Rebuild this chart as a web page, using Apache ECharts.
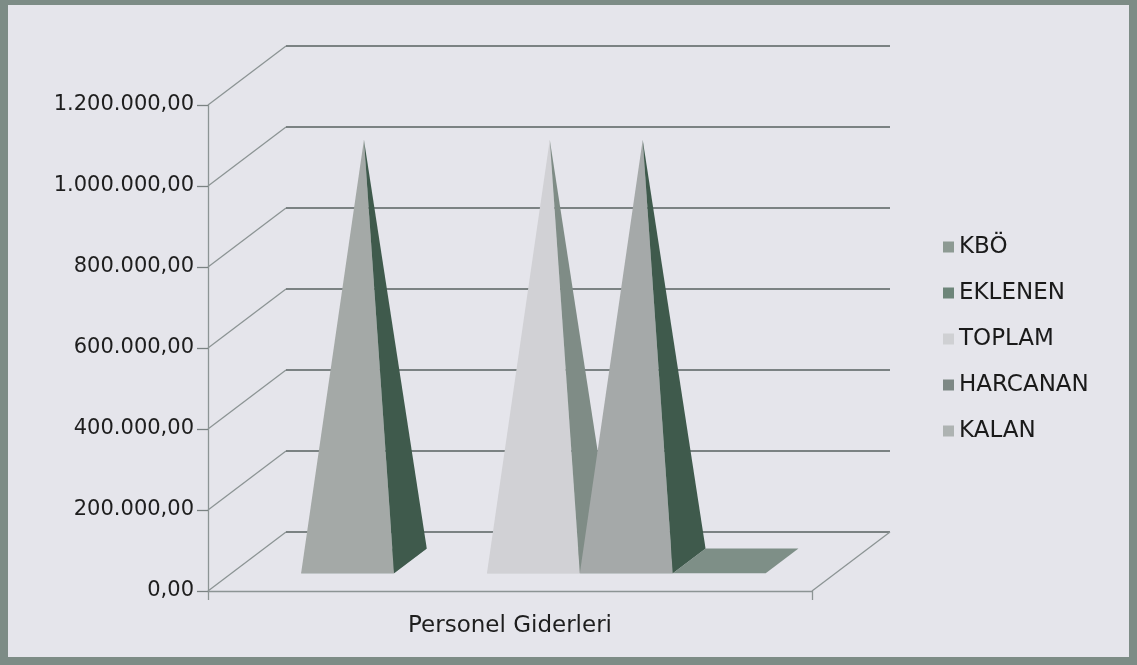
<!DOCTYPE html>
<html>
<head>
<meta charset="utf-8">
<script src="https://cdn.jsdelivr.net/npm/echarts@6/dist/echarts.min.js"></script>
<style>
html,body{margin:0;padding:0;background:#e5e5eb;}
#chart{width:1137px;height:665px;}
</style>
</head>
<body>
<div id="chart"></div>
<script>
// ---- data ----
const categories = ['Personel Giderleri'];
const seriesNames = ['KBÖ', 'EKLENEN', 'TOPLAM', 'HARCANAN', 'KALAN'];
const kbo = [1040000];
const eklenen = [null];
const toplam = [1040000];
const harcanan = [1040000];
const kalan = [0];
const yTicks = [0, 200000, 400000, 600000, 800000, 1000000, 1200000];

// ---- style ----
const DX = 78, DY = -59;          // 3D depth offset (px)
const F1 = 0.30, F2 = 0.72;       // bar depth fractions
const GAP = 1.5;                  // gap width (x slot)
const legendColors = ['#8d9a93', '#6d8579', '#cfd0d3', '#7d8885', '#aeb3b2'];
const frontColors  = ['#a4a9a7', '#8fa096', '#d1d1d5', '#a5a9a9', '#9aa6a0'];
const sideColors   = ['#3f5a4c', '#4d6659', '#7f8c86', '#3f5a4c', '#5f7068'];
const baseColors   = ['#7e8f87', '#7e8f87', '#b8bab9', '#7e8f87', '#7e8f87'];
const seriesValues = [kbo, eklenen, toplam, harcanan, kalan];

function fmtTR(v) {
  const s = Math.round(v).toString().replace(/\B(?=(\d{3})+(?!\d))/g, '.');
  return s + ',00';
}

const chart = echarts.init(document.getElementById('chart'));

function frameRender(params, api) {
  const cs = params.coordSys;
  const children = [];
  const xL = cs.x, xR = cs.x + cs.width;
  yTicks.forEach(function (t) {
    const y = api.coord([0, t])[1];
    children.push({type: 'line', shape: {x1: xL, y1: y, x2: xL + DX, y2: y + DY},
      style: {stroke: '#8c9494', lineWidth: 1.3}});
    children.push({type: 'line', shape: {x1: xL + DX, y1: y + DY, x2: xR + DX, y2: y + DY},
      style: {stroke: '#576060', lineWidth: 1.7}});
  });
  const y0 = api.coord([0, 0])[1];
  children.push({type: 'line', shape: {x1: xR, y1: y0, x2: xR + DX, y2: y0 + DY},
    style: {stroke: '#8c9494', lineWidth: 1.3}});
  return {type: 'group', children: children};
}

function pyramidRender(i) {
  return function (params, api) {
    const v = api.value(1);
    if (v === null || v === undefined || isNaN(v)) return;
    const band = api.size([1, 0])[0];
    const n = seriesNames.length;
    const slot = band / (n + GAP);
    const cx = api.coord([0, 0])[0];
    const y0 = api.coord([0, 0])[1];
    const yv = api.coord([0, v])[1];
    const xl = cx - n * slot / 2 + i * slot;
    const xr = xl + slot;
    const P = function (x, f, y) { return [x + f * DX, y + f * DY]; };
    const fl = P(xl, F1, y0), fr = P(xr, F1, y0), br = P(xr, F2, y0), bl = P(xl, F2, y0);
    const apex = P(xl + slot / 2, (F1 + F2) / 2, yv);
    const children = [
      {type: 'polygon', shape: {points: [fl, fr, br, bl]}, style: {fill: baseColors[i]}}
    ];
    if (v > 0) {
      children.push({type: 'polygon', shape: {points: [fl, fr, apex]}, style: {fill: frontColors[i]}});
      children.push({type: 'polygon', shape: {points: [fr, br, apex]}, style: {fill: sideColors[i]}});
    }
    return {type: 'group', children: children};
  };
}

const series = [{
  type: 'custom',
  name: '__frame',
  renderItem: frameRender,
  data: [[0, 0]],
  silent: true,
  z: 1
}];
seriesNames.forEach(function (name, i) {
  series.push({
    type: 'custom',
    name: name,
    renderItem: pyramidRender(i),
    data: categories.map(function (c, k) { return [k, seriesValues[i][k]]; }),
    itemStyle: {color: legendColors[i]},
    z: 2 + i
  });
});

chart.setOption({
  backgroundColor: '#e5e5eb',
  animation: false,
  textStyle: {fontFamily: 'DejaVu Sans'},
  grid: {left: 208, right: 325, top: 105, bottom: 74},
  graphic: [{
    type: 'rect', z: 100,
    shape: {x: 4, y: 1, width: 1129, height: 660},
    style: {fill: 'none', stroke: '#7d8c86', lineWidth: 8}
  }],
  legend: {
    data: seriesNames,
    orient: 'vertical',
    left: 938, top: 229,
    icon: 'rect',
    itemWidth: 11, itemHeight: 11,
    itemGap: 20,
    textStyle: {fontSize: 23, lineHeight: 26, color: '#1a1a1a', fontFamily: 'DejaVu Sans'}
  },
  xAxis: {
    type: 'category',
    data: categories,
    axisLine: {show: true, lineStyle: {color: '#8c9494', width: 1.3}},
    axisTick: {show: true, length: 9, lineStyle: {color: '#8c9494', width: 1.3}},
    axisLabel: {fontSize: 23, color: '#1e1e1e', margin: 24, fontFamily: 'DejaVu Sans'},
    splitLine: {show: false}
  },
  yAxis: {
    type: 'value',
    min: 0, max: 1200000, interval: 200000,
    axisLine: {show: true, lineStyle: {color: '#8c9494', width: 1.3}},
    axisTick: {show: true, length: 11, lineStyle: {color: '#7a8282', width: 1.3}},
    axisLabel: {fontSize: 21, color: '#1e1e1e', margin: 14, formatter: fmtTR, fontFamily: 'DejaVu Sans', padding: [5, 0, 0, 0]},
    splitLine: {show: false}
  },
  series: series
});
</script>
</body>
</html>
